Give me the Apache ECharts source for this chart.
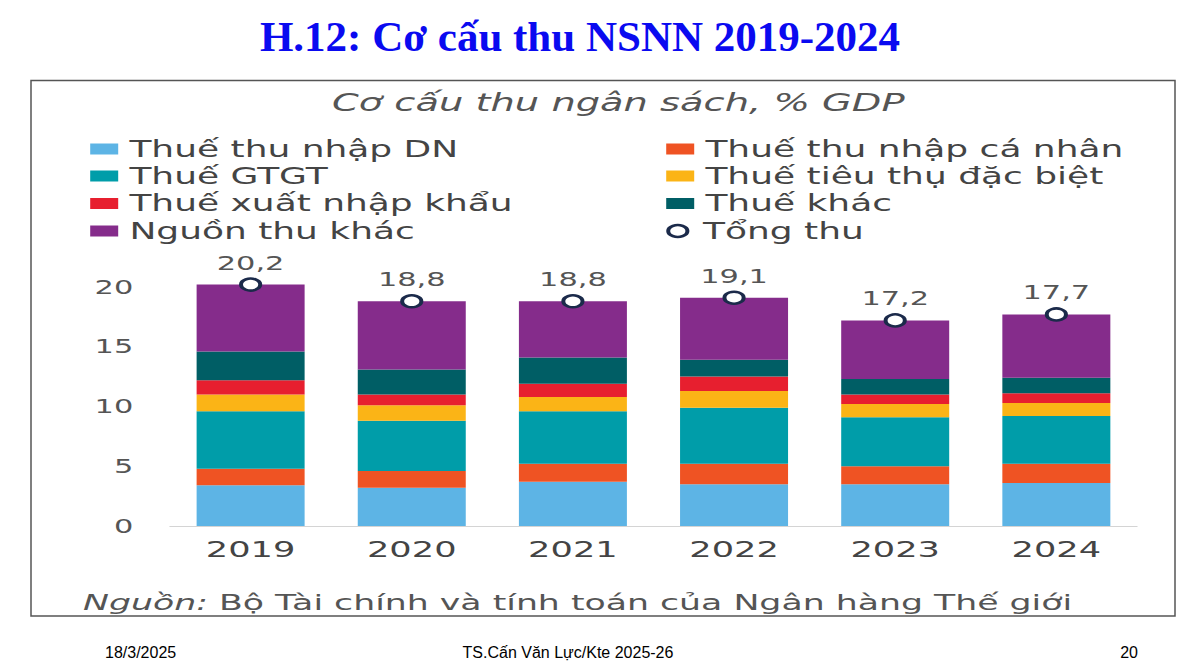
<!DOCTYPE html>
<html>
<head>
<meta charset="utf-8">
<script src="https://cdn.jsdelivr.net/npm/echarts@6/dist/echarts.min.js"></script>
<style>
html,body{margin:0;padding:0;background:#fff;}
#slide{position:absolute;left:0;top:0;width:1200px;height:671px;}
#chart{position:absolute;left:31px;top:80px;width:715px;height:536px;transform:scaleX(1.6);transform-origin:0 0;}
</style>
</head>
<body>
<div id="slide"></div>
<div id="chart"></div>
<script>
// ---- data ----
const categories = ['2019', '2020', '2021', '2022', '2023', '2024'];
const thueTNDN = [3.4, 3.2, 3.7, 3.5, 3.5, 3.6];
const thueTNCN = [1.4, 1.4, 1.5, 1.7, 1.5, 1.6];
const thueGTGT = [4.8, 4.2, 4.4, 4.7, 4.1, 4.0];
const thueTTDB = [1.4, 1.3, 1.2, 1.4, 1.1, 1.1];
const thueXNK = [1.2, 0.9, 1.1, 1.2, 0.8, 0.8];
const thueKhac = [2.4, 2.1, 2.2, 1.4, 1.3, 1.3];
const nguonThuKhac = [5.6, 5.7, 4.7, 5.2, 4.9, 5.3];
const tongThu = [20.2, 18.8, 18.8, 19.1, 17.2, 17.7];
const yMin = 0, yMax = 21, yInterval = 5;

const seriesNames = ['Thuế thu nhập DN', 'Thuế thu nhập cá nhân', 'Thuế GTGT', 'Thuế tiêu thụ đặc biệt',
  'Thuế xuất nhập khẩu', 'Thuế khác', 'Nguồn thu khác', 'Tổng thu'];
const seriesData = [thueTNDN, thueTNCN, thueGTGT, thueTTDB, thueXNK, thueKhac, nguonThuKhac];
const colors = ['#5DB4E5', '#EF5323', '#009DA9', '#FBB416', '#E71F2F', '#005E65', '#852C8B'];
const ringColor = '#1B2A4A';

// ---- slide (outer) ----
const slide = echarts.init(document.getElementById('slide'), null, {renderer: 'svg'});
slide.setOption({
  backgroundColor: '#fff',
  graphic: [
    {type: 'text', x: 580, y: 36, style: {text: 'H.12: Cơ cấu thu NSNN 2019-2024', font: 'bold 43px "Liberation Serif", "Times New Roman", serif', fill: '#0a0af0', align: 'center', verticalAlign: 'middle'}},
    {type: 'rect', shape: {x: 31, y: 80.5, width: 1144, height: 535.5}, style: {fill: 'none', stroke: '#555', lineWidth: 1.5}},
    {type: 'text', x: 105, y: 652, style: {text: '18/3/2025', font: '16px "Liberation Sans", Arial, sans-serif', fill: '#000', align: 'left', verticalAlign: 'middle'}},
    {type: 'text', x: 568, y: 652, style: {text: 'TS.Cấn Văn Lực/Kte 2025-26', font: '16px "Liberation Sans", Arial, sans-serif', fill: '#000', align: 'center', verticalAlign: 'middle'}},
    {type: 'text', x: 1138, y: 652, style: {text: '20', font: '16px "Liberation Sans", Arial, sans-serif', fill: '#000', align: 'right', verticalAlign: 'middle'}}
  ]
});

// ---- chart (inner, horizontally stretched like the reference) ----
const chart = echarts.init(document.getElementById('chart'), null, {renderer: 'svg'});
const FONT = '"DejaVu Sans", sans-serif';

const legendPos = [
  [37, 69], [397, 69],
  [37, 96], [397, 96],
  [37, 123.5], [397, 123.5],
  [37, 151], [397, 151]
];
const legends = seriesNames.map((n, i) => {
  const lg = {
    data: [n], orient: 'horizontal', left: legendPos[i][0], top: legendPos[i][1] - 12, padding: 0,
    itemWidth: 17.5, itemHeight: 11, icon: 'rect', selectedMode: true,
    textStyle: {fontFamily: FONT, fontSize: 22.5, color: '#444', lineHeight: 24, padding: [0, 0, 0, 2]}
  };
  if (n === 'Tổng thu') {
    lg.icon = 'circle';
    lg.itemHeight = 12;
    lg.itemStyle = {color: '#fff', borderColor: ringColor, borderWidth: 2.5};
  }
  return lg;
});

const series = seriesData.map((d, i) => ({
  name: seriesNames[i], type: 'bar', stack: 'thu', data: d, barWidth: 67.5,
  itemStyle: {color: colors[i]}, emphasis: {disabled: true}
}));
series.push({
  name: 'Tổng thu', type: 'scatter', data: tongThu, symbol: 'circle', symbolSize: 12, z: 10,
  itemStyle: {color: '#fff', borderColor: ringColor, borderWidth: 2.5, opacity: 1},
  label: {show: true, position: 'top', distance: 5, fontFamily: FONT, fontSize: 19, color: '#555',
    formatter: p => String(p.value).replace('.', ',')}
});

chart.setOption({
  backgroundColor: 'transparent',
  animation: false,
  legend: legends,
  grid: {left: 86.9, right: 23.8, top: 195, bottom: 90},
  xAxis: {
    type: 'category', data: categories,
    axisLine: {show: true, lineStyle: {color: '#d4d4d4', width: 1}},
    axisTick: {show: false},
    axisLabel: {fontFamily: FONT, fontSize: 22, color: '#444', margin: 12}
  },
  yAxis: {
    type: 'value', min: yMin, max: yMax, interval: yInterval,
    splitLine: {show: false}, axisLine: {show: false}, axisTick: {show: false},
    axisLabel: {fontFamily: FONT, fontSize: 19, color: '#555', margin: 23, showMaxLabel: false}
  },
  graphic: [
    {type: 'text', x: 367, y: 23, style: {text: 'Cơ cấu thu ngân sách, % GDP', font: 'italic 24px "DejaVu Sans", sans-serif', fill: '#555', align: 'center', verticalAlign: 'middle'}},
    {type: 'text', x: 32.5, y: 523, style: {
      text: '{i|Nguồn:} Bộ Tài chính và tính toán của Ngân hàng Thế giới',
      fontFamily: FONT, fontSize: 21.7, fill: '#555', align: 'left', verticalAlign: 'middle',
      rich: {i: {fontStyle: 'italic', fontFamily: FONT, fontSize: 21.7, fill: '#555'}}
    }}
  ],
  series: series
});
</script>
</body>
</html>
